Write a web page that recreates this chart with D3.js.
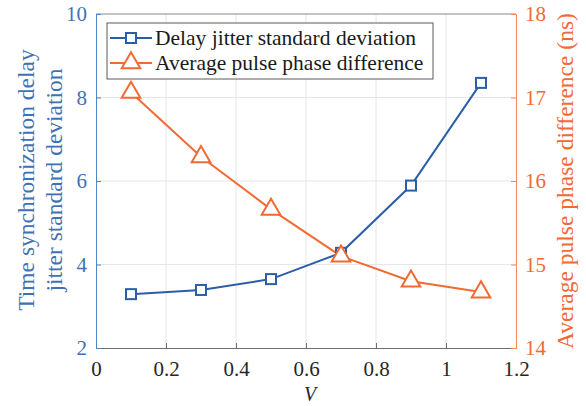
<!DOCTYPE html>
<html>
<head>
<meta charset="utf-8">
<script src="https://cdn.jsdelivr.net/npm/d3@7"></script>
<style>
  body { margin: 0; background: #fff; }
</style>
</head>
<body>
<div class="container"></div>
<script>
// data
const vValues = [0.1, 0.3, 0.5, 0.7, 0.9, 1.1];
const jitterStd = [3.29, 3.39, 3.65, 4.28, 5.89, 8.35];
const phaseDiff = [17.06, 16.29, 15.66, 15.10, 14.80, 14.67];
const xTicks = [0, 0.2, 0.4, 0.6, 0.8, 1, 1.2];
const yLeftTicks = [2, 4, 6, 8, 10];
const yRightTicks = [14, 15, 16, 17, 18];
const seriesNames = ["Delay jitter standard deviation", "Average pulse phase difference"];

const svgWidth = 586, svgHeight = 406;
const margin = { top: 14, right: 70, bottom: 58, left: 96 };
const width = svgWidth - margin.left - margin.right;
const height = svgHeight - margin.top - margin.bottom;

const blue = "#2b5ea7", blueAxis = "#4f86c6";
const orange = "#f26a33", orangeAxis = "#f38a5e";
const serif = "Liberation Serif";

const svg = d3.select(".container").append("svg")
    .attr("width", svgWidth)
    .attr("height", svgHeight);

const chartGroup = svg.append("g")
    .attr("transform", `translate(${margin.left}, ${margin.top})`);

const x = d3.scaleLinear().domain([0, 1.2]).range([0, width]);
const yLeft = d3.scaleLinear().domain([2, 10]).range([height, 0]);
const yRight = d3.scaleLinear().domain([14, 18]).range([height, 0]);

// grid
chartGroup.append("g").selectAll("line")
    .data(xTicks.slice(1, -1)).enter().append("line")
    .attr("x1", d => x(d)).attr("x2", d => x(d))
    .attr("y1", 0).attr("y2", height)
    .attr("stroke", "#e6e6e6").attr("stroke-width", 1);
chartGroup.append("g").selectAll("line")
    .data(yLeftTicks.slice(1, -1)).enter().append("line")
    .attr("x1", 0).attr("x2", width)
    .attr("y1", d => yLeft(d)).attr("y2", d => yLeft(d))
    .attr("stroke", "#e6e6e6").attr("stroke-width", 1);

// top border
chartGroup.append("line")
    .attr("x1", 0).attr("x2", width).attr("y1", 0).attr("y2", 0)
    .attr("stroke", "#8a8a8a");

// axes
const xAxis = chartGroup.append("g")
    .attr("transform", `translate(0, ${height})`)
    .call(d3.axisBottom(x).tickValues(xTicks).tickFormat(d3.format("")).tickSize(-5).tickPadding(13));
xAxis.select(".domain").attr("stroke", "#6e6e6e");
xAxis.selectAll(".tick line").attr("stroke", "#6e6e6e");
xAxis.selectAll("text").attr("font-size", 21).attr("fill", "#262626");

const leftAxis = chartGroup.append("g")
    .call(d3.axisLeft(yLeft).tickValues(yLeftTicks).tickFormat(d3.format("d")).tickSize(-5).tickPadding(9));
leftAxis.select(".domain").attr("stroke", blueAxis);
leftAxis.selectAll(".tick line").attr("stroke", blueAxis);
leftAxis.selectAll("text").attr("font-size", 21).attr("fill", "#3f72b5");

const rightAxis = chartGroup.append("g")
    .attr("transform", `translate(${width}, 0)`)
    .call(d3.axisRight(yRight).tickValues(yRightTicks).tickFormat(d3.format("d")).tickSize(-5).tickPadding(9));
rightAxis.select(".domain").attr("stroke", orangeAxis);
rightAxis.selectAll(".tick line").attr("stroke", orangeAxis);
rightAxis.selectAll("text").attr("font-size", 21).attr("fill", orange);

// lines
const lineLeft = d3.line().x((d, i) => x(vValues[i])).y(d => yLeft(d));
const lineRight = d3.line().x((d, i) => x(vValues[i])).y(d => yRight(d));

chartGroup.append("path").datum(jitterStd)
    .attr("d", lineLeft).attr("fill", "none")
    .attr("stroke", blue).attr("stroke-width", 2);
chartGroup.append("path").datum(phaseDiff)
    .attr("d", lineRight).attr("fill", "none")
    .attr("stroke", orange).attr("stroke-width", 2);

// markers
const sq = 10;
chartGroup.selectAll(".sq").data(jitterStd).enter().append("rect")
    .attr("class", "sq")
    .attr("x", (d, i) => x(vValues[i]) - sq / 2)
    .attr("y", d => yLeft(d) - sq / 2)
    .attr("width", sq).attr("height", sq)
    .attr("fill", "#fff").attr("stroke", blue).attr("stroke-width", 2);

const tri = d3.symbol().type(d3.symbolTriangle).size(150);
chartGroup.selectAll(".tri").data(phaseDiff).enter().append("path")
    .attr("class", "tri")
    .attr("d", tri)
    .attr("transform", (d, i) => `translate(${x(vValues[i])}, ${yRight(d)})`)
    .attr("fill", "#fff").attr("stroke", orange).attr("stroke-width", 2);

// legend
const legend = chartGroup.append("g").attr("transform", "translate(11, 9)");
legend.append("rect")
    .attr("width", 326).attr("height", 56)
    .attr("fill", "#fff").attr("stroke", "#5a5a5a").attr("stroke-width", 1);
const legColors = [blue, orange];
seriesNames.forEach((name, i) => {
    const row = legend.append("g").attr("transform", `translate(0, ${15 + i * 25})`);
    row.append("line").attr("x1", 3).attr("x2", 45).attr("y1", 0).attr("y2", 0)
        .attr("stroke", legColors[i]).attr("stroke-width", 2);
    if (i === 0) {
        row.append("rect").attr("x", 24 - sq / 2).attr("y", -sq / 2)
            .attr("width", sq).attr("height", sq)
            .attr("fill", "#fff").attr("stroke", blue).attr("stroke-width", 2);
    } else {
        row.append("path").attr("d", tri).attr("transform", "translate(24, 0)")
            .attr("fill", "#fff").attr("stroke", orange).attr("stroke-width", 2);
    }
    row.append("text").attr("x", 48).attr("y", 7)
        .attr("font-size", 21.5).attr("fill", "#1a1a1a")
        .text(name);
});

// axis titles
svg.append("text")
    .attr("transform", `translate(310, 401)`)
    .attr("text-anchor", "middle")
    .attr("font-size", 20).attr("font-style", "italic").attr("fill", "#262626")
    .text("V");

const yTitle = svg.append("text")
    .attr("transform", `translate(34, 180) rotate(-90)`)
    .attr("text-anchor", "middle")
    .attr("font-size", 23.5).attr("fill", "#3f72b5");
yTitle.append("tspan").attr("x", 0).attr("dy", 0).text("Time synchronization delay");
yTitle.append("tspan").attr("x", 0).attr("dy", 28).text("jitter standard deviation");

svg.append("text")
    .attr("transform", `translate(573, ${margin.top + height / 2}) rotate(-90)`)
    .attr("text-anchor", "middle")
    .attr("font-size", 23.5).attr("fill", orange)
    .text("Average pulse phase difference (ns)");

// serif everywhere (inline style wins over the axis defaults)
svg.selectAll("text").style("font-family", serif);
</script>
</body>
</html>
